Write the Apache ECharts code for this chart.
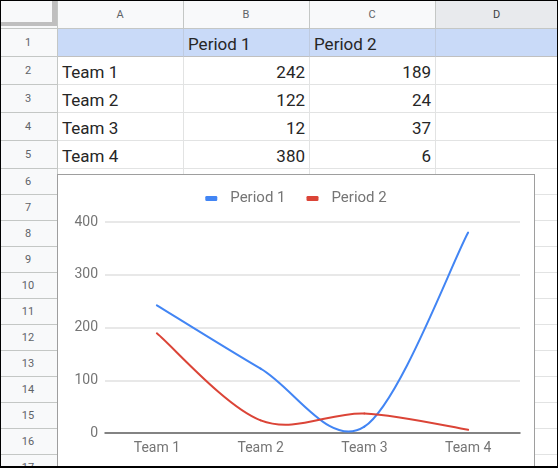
<!DOCTYPE html>
<html>
<head>
<meta charset="utf-8">
<script src="https://cdn.jsdelivr.net/npm/echarts@6/dist/echarts.min.js"></script>
<style>
html,body{margin:0;padding:0;background:#fff;}
#page{position:relative;width:558px;height:468px;overflow:hidden;background:#fff;font-family:Roboto,Arial,sans-serif;}
.c{position:absolute;box-sizing:border-box;border-right:1px solid #e2e3e3;border-bottom:1px solid #e2e3e3;
   display:flex;align-items:flex-end;font-size:17px;color:#262626;padding:0 4px 2px 5px;line-height:20px;white-space:nowrap;}
.num{justify-content:flex-end;}
.h{position:absolute;box-sizing:border-box;background:#f8f9fa;border-right:1px solid #c4c7c5;border-bottom:1px solid #c4c7c5;
   display:flex;align-items:center;justify-content:center;font-size:11px;color:#5f6368;padding-top:1px;}
#frame{position:absolute;left:0;top:0;width:558px;height:468px;box-sizing:border-box;border-style:solid;border-color:#000;border-width:1px 1px 2px 1px;pointer-events:none;z-index:20;}
#chartbox{position:absolute;left:57px;top:174px;width:478px;height:310px;box-sizing:border-box;border:1px solid #9e9e9e;background:#fff;z-index:10;}
#chart{position:absolute;left:0;top:0;width:476px;height:308px;}
</style>
</head>
<body>
<div id="page">
  <div id="chartbox"><div id="chart"></div></div>
  <div id="frame"></div>
</div>
<script>
// ---- data ----
var categories = ['Team 1', 'Team 2', 'Team 3', 'Team 4'];
var seriesNames = ['Period 1', 'Period 2'];
var period1 = [242, 122, 12, 380];
var period2 = [189, 24, 37, 6];
var columnLetters = ['A', 'B', 'C', 'D'];
var yTicks = [0, 100, 200, 300, 400];

// ---- spreadsheet grid ----
var page = document.getElementById('page');
var colEdges = [57, 183, 309, 435, 558];
var rowEdges = [28, 56, 84, 112, 140, 168];
for (var r = 194; r <= 500; r += 26) rowEdges.push(r);
function add(cls, x, y, w, h, text, style) {
  var d = document.createElement('div');
  d.className = cls;
  d.style.left = x + 'px'; d.style.top = y + 'px';
  d.style.width = (w + 1) + 'px'; d.style.height = (h + 1) + 'px';
  if (text !== undefined && text !== null) d.textContent = text;
  if (style) for (var k in style) d.style[k] = style[k];
  page.insertBefore(d, page.firstChild);
  return d;
}
var corner = add('h', -1, -1, 58, 29, '', {});
var bar1 = document.createElement('div');
bar1.style.cssText = 'position:absolute;left:0;top:23px;width:54px;height:4px;background:#bfbfbf;';
var bar2 = document.createElement('div');
bar2.style.cssText = 'position:absolute;left:53px;top:0;width:5px;height:27px;background:#bfbfbf;';
corner.appendChild(bar1); corner.appendChild(bar2);
for (var i = 0; i < 4; i++) {
  add('h', colEdges[i], -1, colEdges[i + 1] - colEdges[i], 29, columnLetters[i],
      i === 3 ? {background: '#e8eaed', color: '#3c4043'} : {});
}
var table = [[null, seriesNames[0], seriesNames[1], null]];
for (var j = 0; j < categories.length; j++) table.push([categories[j], period1[j], period2[j], null]);
for (var rr = 0; rr < rowEdges.length - 1; rr++) {
  var y0 = rowEdges[rr], hh = rowEdges[rr + 1] - rowEdges[rr];
  add('h', -1, y0, 58, hh, String(rr + 1), {});
  for (var cc = 0; cc < 4; cc++) {
    var val = (rr < table.length) ? table[rr][cc] : null;
    var st = {};
    if (rr === 0) { st.background = '#c9daf8'; st.borderRightColor = '#bfcbe0'; st.borderBottomColor = '#c0c0c0'; }
    var cls = 'c' + ((typeof val === 'number') ? ' num' : '');
    add(cls, colEdges[cc], y0, colEdges[cc + 1] - colEdges[cc], hh, val, st);
  }
}

// ---- chart ----
var colors = ['#4285f4', '#db4437'];
// Catmull-Rom style smoothing (like Google's "function" curve), every point from api.coord
function curveSeries(name, values, color) {
  return {
    name: name, type: 'custom', clip: false,
    itemStyle: {color: color},
    encode: {x: 0, y: 1},
    data: values.map(function (v, k) { return [k, v]; }),
    renderItem: function (params, api) {
      var k = params.dataIndex, n = values.length;
      if (k >= n - 1) return null;
      function P(idx) {
        idx = Math.max(0, Math.min(n - 1, idx));
        return api.coord([idx, values[idx]]);
      }
      var p0 = P(k - 1), p1 = P(k), p2 = P(k + 1), p3 = P(k + 2);
      var t1 = [(p2[0] - p0[0]) / 2, (p2[1] - p0[1]) / 2];
      var t2 = [(p3[0] - p1[0]) / 2, (p3[1] - p1[1]) / 2];
      return {
        type: 'bezierCurve',
        shape: {
          x1: p1[0], y1: p1[1], x2: p2[0], y2: p2[1],
          cpx1: p1[0] + t1[0] / 3, cpy1: p1[1] + t1[1] / 3,
          cpx2: p2[0] - t2[0] / 3, cpy2: p2[1] - t2[1] / 3
        },
        style: {stroke: color, fill: null, lineWidth: 2, lineCap: 'round'}
      };
    }
  };
}
var chart = echarts.init(document.getElementById('chart'), null, {renderer: 'canvas'});
chart.setOption({
  animation: false,
  backgroundColor: '#fff',
  color: colors,
  legend: {
    top: 11, left: 'center', itemWidth: 12, itemHeight: 5, itemGap: 21, icon: 'roundRect',
    textStyle: {color: '#757575', fontSize: 15, fontFamily: 'Roboto', padding: [0, 0, 0, 8]},
    data: seriesNames
  },
  grid: {left: 47, top: 47, width: 415, height: 211, containLabel: false},
  xAxis: {
    type: 'category', data: categories, boundaryGap: true,
    axisTick: {show: false},
    axisLine: {lineStyle: {color: '#616161', width: 1.5}},
    axisLabel: {color: '#757575', fontSize: 14, fontFamily: 'Roboto', margin: 8}
  },
  yAxis: {
    type: 'value', min: yTicks[0], max: yTicks[yTicks.length - 1], interval: 100,
    axisLine: {show: false}, axisTick: {show: false},
    axisLabel: {color: '#757575', fontSize: 14, fontFamily: 'Roboto', margin: 7},
    splitLine: {lineStyle: {color: '#e0e0e0', width: 1.5}}
  },
  series: [
    curveSeries(seriesNames[0], period1, colors[0]),
    curveSeries(seriesNames[1], period2, colors[1])
  ]
});
</script>
</body>
</html>
